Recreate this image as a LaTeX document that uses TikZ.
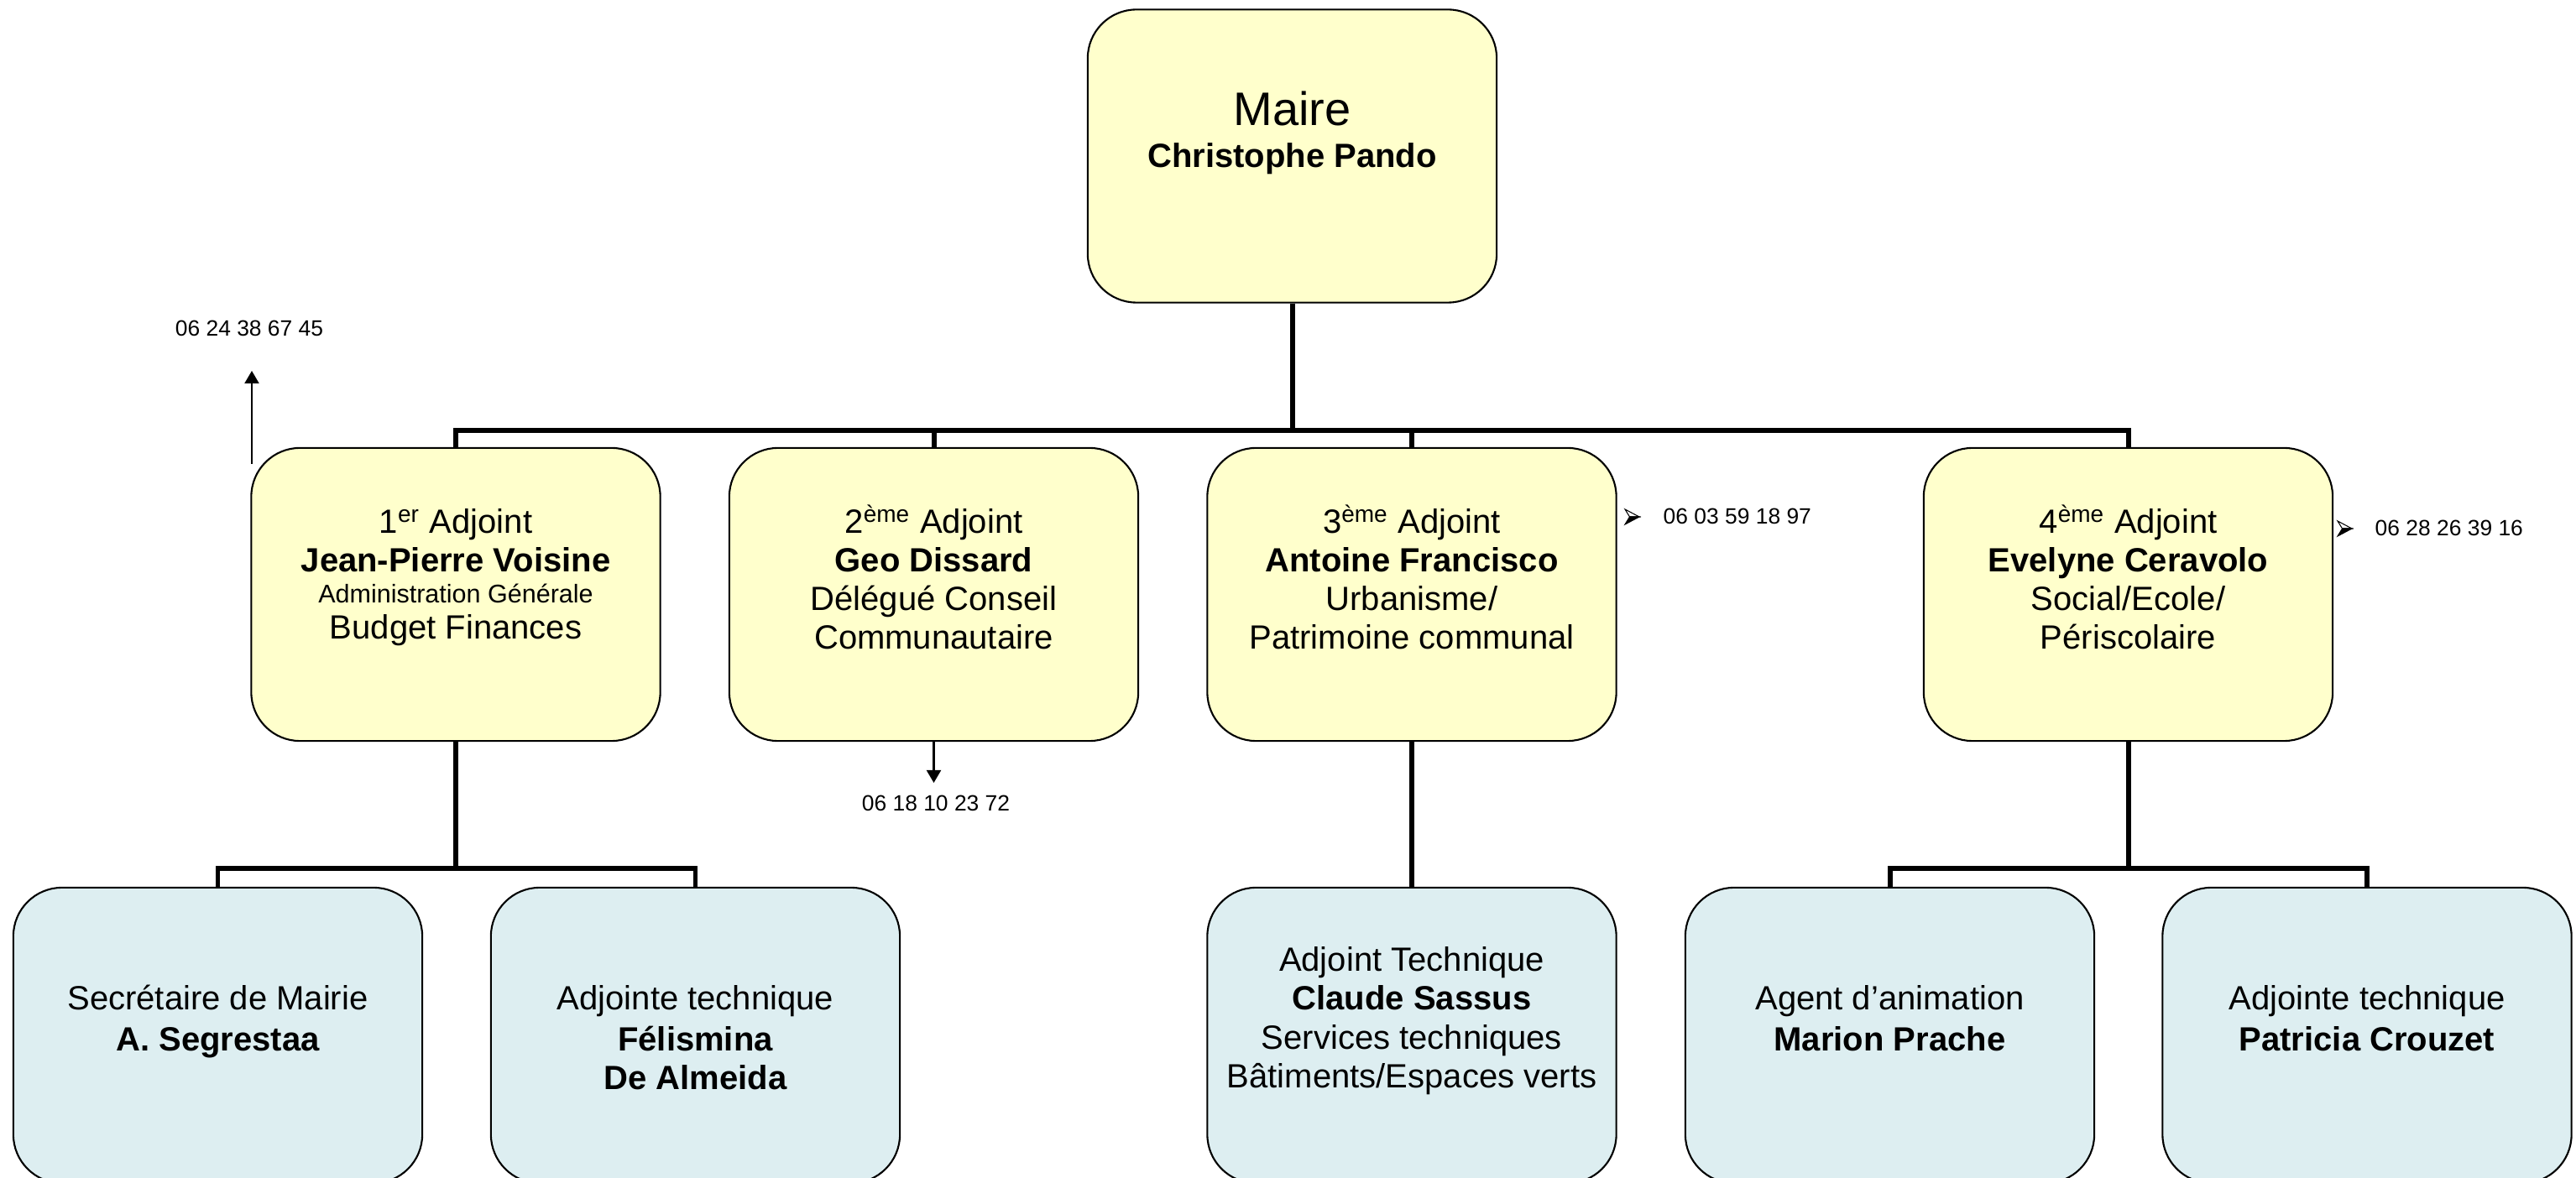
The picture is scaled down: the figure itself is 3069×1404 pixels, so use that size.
\documentclass[tikz,border=0pt]{standalone}
\usepackage{fontspec}
\setmainfont{Liberation Sans}
\usetikzlibrary{arrows.meta,calc}
\definecolor{boxyellow}{RGB}{255,255,204}
\definecolor{boxblue}{RGB}{221,238,241}
\begin{document}
\begin{tikzpicture}[x=0.01cm, y=-0.01cm,
  orgbox/.style={draw=black, line width=0.6pt, rounded corners=0.58cm, minimum width=4.87cm, minimum height=3.49cm, inner sep=0pt},
  ybox/.style={orgbox, fill=boxyellow},
  bbox/.style={orgbox, fill=boxblue, minimum height=3.52cm},
  conn/.style={line width=1.7pt, line join=miter},
  ptr/.style={line width=0.6pt, -{Triangle[length=0.15cm, width=0.17cm]}},
  txt/.style={anchor=base, inner sep=0pt, font=\fontsize{11.38}{13.4}\selectfont},
  bigtxt/.style={anchor=base, inner sep=0pt, font=\fontsize{15.93}{18}\selectfont},
  smalltxt/.style={anchor=base, inner sep=0pt, font=\fontsize{8.68}{10}\selectfont},
  phone/.style={inner sep=0pt, font=\fontsize{7.51}{9}\selectfont},
  mk/.style={line width=0.3pt, line join=miter}
]
\useasboundingbox (0,0) rectangle (3069,1404);
\fill[white] (0,0) rectangle (3069,1404);

% boxes
\node[ybox] (maire) at (1539.5,186) {};
\node[ybox] (a1) at (543,708.5) {};
\node[ybox] (a2) at (1112.5,708.5) {};
\node[ybox] (a3) at (1682,708.5) {};
\node[ybox] (a4) at (2535.5,708.5) {};
\node[bbox] (b1) at (259.5,1234) {};
\node[bbox] (b2) at (828.5,1234) {};
\node[bbox] (b3) at (1682,1234) {};
\node[bbox] (b4) at (2251.5,1234) {};
\node[bbox] (b5) at (2820,1234) {};

% connectors
\coordinate (bus) at (0,513);
\coordinate (sub) at (0,1035);
\draw[conn] (maire.south) -- (maire.south |- bus);
\draw[conn] (a1.north) -- (a1.north |- bus) -- (a4.north |- bus) -- (a4.north);
\draw[conn] (a2.north) -- (a2.north |- bus);
\draw[conn] (a3.north) -- (a3.north |- bus);
\draw[conn] (a1.south) -- (a1.south |- sub);
\draw[conn] (b1.north) -- (b1.north |- sub) -- (b2.north |- sub) -- (b2.north);
\draw[conn] (a3.south) -- (b3.north);
\draw[conn] (a4.south) -- (a4.south |- sub);
\draw[conn] (b4.north) -- (b4.north |- sub) -- (b5.north |- sub) -- (b5.north);

% texts: maire
\node[bigtxt] (t0a) at (1539.5,150) {Maire};
\node[txt] (t0b) at (1539.5,200) {\bfseries Christophe Pando};
% adjoint 1
\node[txt] (t1a) at (543,636) {1\textsuperscript{er} Adjoint};
\node[txt] (t1b) at (543,682) {\bfseries Jean-Pierre Voisine};
\node[smalltxt] (t1c) at (543,719) {Administration Générale};
\node[txt] (t1d) at (543,762) {Budget Finances};
% adjoint 2
\node[txt] (t2a) at (1112.5,636) {2\textsuperscript{ème} Adjoint};
\node[txt] (t2b) at (1112.5,682) {\bfseries Geo Dissard};
\node[txt] (t2c) at (1112.5,728) {Délégué Conseil};
\node[txt] (t2d) at (1112.5,774) {Communautaire};
% adjoint 3
\node[txt] (t3a) at (1682,636) {3\textsuperscript{ème} Adjoint};
\node[txt] (t3b) at (1682,682) {\bfseries Antoine Francisco};
\node[txt] (t3c) at (1682,728) {Urbanisme/};
\node[txt] (t3d) at (1682,774) {Patrimoine communal};
% adjoint 4
\node[txt] (t4a) at (2535.5,636) {4\textsuperscript{ème} Adjoint};
\node[txt] (t4b) at (2535.5,682) {\bfseries Evelyne Ceravolo};
\node[txt] (t4c) at (2535.5,728) {Social/Ecole/};
\node[txt] (t4d) at (2535.5,774) {Périscolaire};
% bottom row
\node[txt] (u1a) at (259.5,1204) {Secrétaire de Mairie};
\node[txt] (u1b) at (259.5,1252) {\bfseries A. Segrestaa};
\node[txt] (u2a) at (828.5,1204) {Adjointe technique};
\node[txt] (u2b) at (828.5,1252) {\bfseries Félismina};
\node[txt] (u2c) at (828.5,1298) {\bfseries De Almeida};
\node[txt] (u3a) at (1682,1157) {Adjoint Technique};
\node[txt] (u3b) at (1682,1204) {\bfseries Claude Sassus};
\node[txt] (u3c) at (1682,1250) {Services techniques};
\node[txt] (u3d) at (1682,1297) {Bâtiments/Espaces verts};
\node[txt] (u4a) at (2251.5,1204) {Agent d’animation};
\node[txt] (u4b) at (2251.5,1252) {\bfseries Marion Prache};
\node[txt] (u5a) at (2820,1204) {Adjointe technique};
\node[txt] (u5b) at (2820,1252) {\bfseries Patricia Crouzet};

% phone numbers
\node[phone, anchor=base] (p1) at (297,401) {06 24 38 67 45};
\coordinate (p1s) at (300,553);
\coordinate (p1e) at (300,442);
\draw[ptr] (p1s) -- (p1e);
\node[phone, anchor=base] (p2) at (1115,967) {06 18 10 23 72};
\coordinate (p2e) at (1112.5,933);
\draw[ptr] (a2.south) -- (p2e);
\node[phone, anchor=base west] (p3) at (1981,625) {06 03 59 18 97};
\node[phone, anchor=base west] (p4) at (2829,639) {06 28 26 39 16};

% markers
\coordinate (m3) at (1944.5,616);
\coordinate (m4) at (2793.5,630);
\foreach \m in {m3,m4}{
  \filldraw[mk, fill=white] ($(\m)+(8.5,0)$) -- ($(\m)+(-8.5,-9)$) -- ($(\m)+(-3,0)$) -- cycle;
  \filldraw[mk, fill=black] ($(\m)+(8.5,0)$) -- ($(\m)+(-3,0)$) -- ($(\m)+(-8.5,9)$) -- cycle;
}
\end{tikzpicture}
\end{document}
